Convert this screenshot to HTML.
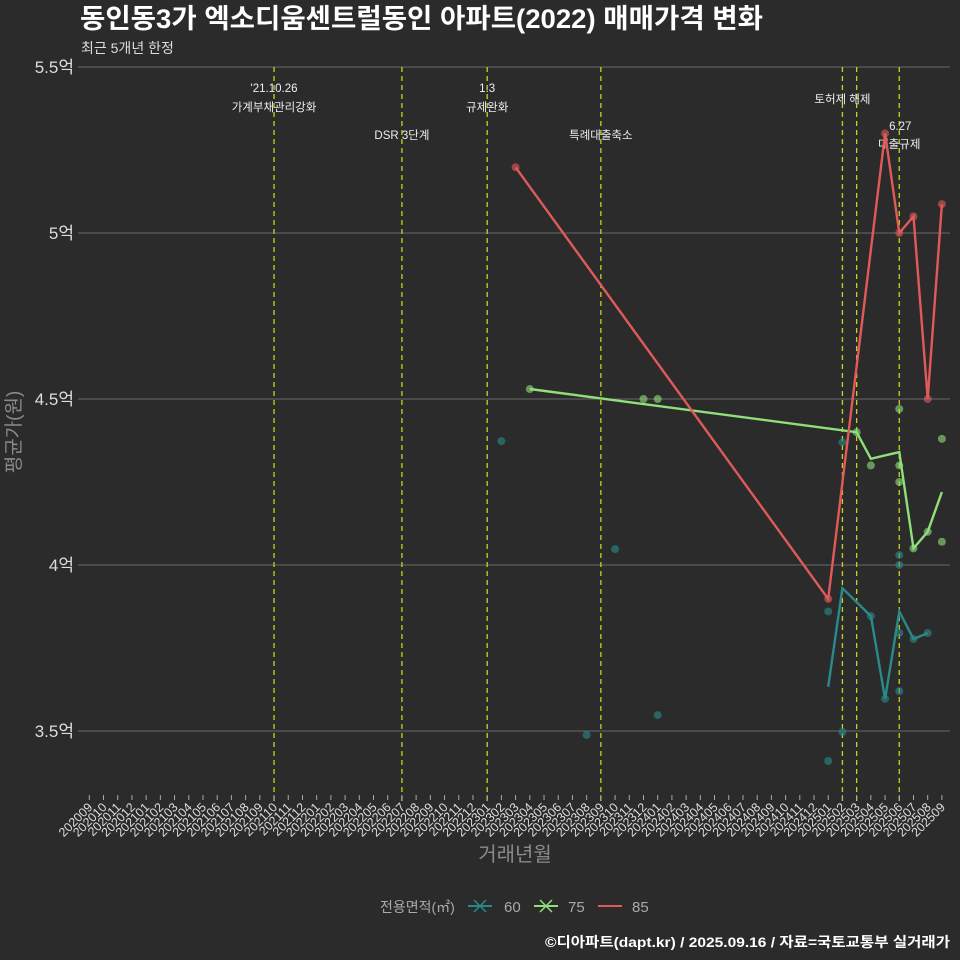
<!DOCTYPE html>
<html><head><meta charset="utf-8">
<style>
html,body{margin:0;padding:0;background:#2b2b2b;}
svg{display:block;font-family:"Liberation Sans","Noto Sans CJK KR",sans-serif;}
</style></head>
<body>
<svg id="chart" width="960" height="960" viewBox="0 0 960 960" xmlns="http://www.w3.org/2000/svg">
<rect width="960" height="960" fill="#2b2b2b"/>
<text x="80" y="28" fill="#ffffff" font-size="27" font-weight="bold" textLength="683" lengthAdjust="spacingAndGlyphs">동인동3가 엑소디움센트럴동인 아파트(2022) 매매가격 변화</text>
<text x="81" y="53" fill="#dddddd" font-size="14">최근 5개년 한정</text>
<g id="grid"></g>
<g id="vlines"></g>
<g id="xaxis"></g>
<g id="series"></g>
<text x="20" y="432" fill="#8a8a8a" font-size="19" transform="rotate(-90 20 432)" text-anchor="middle">평균가(원)</text>
<text x="515" y="861" fill="#8a8a8a" font-size="20" text-anchor="middle">거래년월</text>
<g>
<text x="380" y="912" fill="#aaaaaa" font-size="14">전용면적(㎡)</text>
<g><line x1="468" y1="906" x2="492" y2="906" stroke="#2a8a8a" stroke-width="2"/><path d="M474 900 L486 912 M486 900 L474 912" stroke="#2a8a8a" stroke-width="1.5"/><text x="504" y="912" fill="#aaaaaa" font-size="15">60</text></g>
<g><line x1="534" y1="906" x2="558" y2="906" stroke="#8fe07a" stroke-width="2"/><path d="M540 900 L552 912 M552 900 L540 912" stroke="#8fe07a" stroke-width="1.5"/><text x="568" y="912" fill="#aaaaaa" font-size="15">75</text></g>
<g><line x1="598" y1="906" x2="622" y2="906" stroke="#e05a5a" stroke-width="2"/><text x="632" y="912" fill="#aaaaaa" font-size="15">85</text></g>
</g>
<text x="950" y="947" fill="#ffffff" font-size="14" font-weight="bold" text-anchor="end" textLength="405" lengthAdjust="spacingAndGlyphs">©디아파트(dapt.kr) / 2025.09.16 / 자료=국토교통부 실거래가</text>
</svg>
<script>
const months = (function(){const a=[];let y=2020,m=9;while(y<2025||(y===2025&&m<=9)){a.push(y+String(m).padStart(2,'0'));m++;if(m>12){m=1;y++;}}return a;})();
const yTicks = [3.5,4,4.5,5,5.5];
const yTickLabels = ['3.5억','4억','4.5억','5억','5.5억'];
const eventMonths = ['202110','202207','202301','202309','202502','202503','202506'];
const line60Months = ['202501','202502','202504','202505','202506','202507','202508'];
const line60Values = [3.633,3.93,3.846,3.597,3.86,3.777,3.795];
const line75Months = ['202304','202503','202504','202506','202507','202508','202509'];
const line75Values = [4.53,4.40,4.32,4.34,4.05,4.10,4.22];
const line85Months = ['202303','202501','202505','202506','202507','202508','202509'];
const line85Values = [5.198,3.898,5.30,5.0,5.05,4.5,5.087];
const pts60Months = ['202302','202308','202310','202401','202501','202501','202502','202502','202504','202505','202506','202506','202506','202506','202507','202508'];
const pts60Values = [4.373,3.488,4.048,3.548,3.86,3.41,4.37,3.497,3.846,3.597,4.03,4.0,3.795,3.62,3.777,3.795];
const pts75Months = ['202304','202312','202401','202503','202504','202506','202506','202506','202507','202508','202509','202509'];
const pts75Values = [4.53,4.5,4.5,4.40,4.30,4.47,4.30,4.25,4.05,4.10,4.38,4.07];
const pts85Months = ['202303','202501','202505','202506','202507','202508','202509'];
const pts85Values = [5.198,3.898,5.30,5.0,5.05,4.5,5.087];

const NS='http://www.w3.org/2000/svg';
function xOf(mon){return 89.3+months.indexOf(mon)*14.21;}
function yOf(v){return 233+(5-v)*332;}
function mk(tag,attrs,parent){const e=document.createElementNS(NS,tag);for(const k in attrs)e.setAttribute(k,attrs[k]);parent.appendChild(e);return e;}

const grid=document.getElementById('grid');
yTicks.forEach((v,i)=>{
  const l=mk('line',{x1:78,x2:950,y1:yOf(v),y2:yOf(v),stroke:'#6a6a6a','stroke-width':1},grid);
  
  
  const t=mk('text',{x:74,y:yOf(v)+6,fill:'#dddddd','font-size':17,'text-anchor':'end'},grid);
  t.textContent=yTickLabels[i];
  
  
});

const vl=document.getElementById('vlines');
eventMonths.forEach(m=>{
  const l=mk('line',{x1:xOf(m),x2:xOf(m),y1:67,y2:805,stroke:'#c8d21e','stroke-width':1.3,'stroke-dasharray':'5,4'},vl);
  
  
});
const anns=[['202110',92,"'21.10.26"],['202110',111,'가계부채관리강화'],['202207',139,'DSR 3단계'],['202301',92,'1.3'],['202301',111,'규제완화'],['202309',139,'특례대출축소'],['202502',103,'토허제 해제'],['202506',130,'6.27'],['202506',148,'대출규제']];
anns.forEach(a=>{
  const t=mk('text',{x:xOf(a[0])+(a[2]==='6.27'?1:0),y:a[1],fill:'#eeeeee','font-size':11.5,'text-anchor':'middle'},vl);
  t.textContent=a[2];
  
  
});

const xa=document.getElementById('xaxis');
months.forEach(m=>{
  const x=xOf(m);
  mk('line',{x1:x,x2:x,y1:795,y2:800,stroke:'#aaaaaa','stroke-width':1},xa);
  const t=mk('text',{x:x+4,y:808,fill:'#dddddd','font-size':12.5,'text-anchor':'end',transform:'rotate(-45 '+(x+4)+' 808)'},xa);
  t.textContent=m;
  
  
});

const sg=document.getElementById('series');
function pts(ms,vs,color,name){
  ms.forEach((m,i)=>{
    const c=mk('circle',{cx:xOf(m),cy:yOf(vs[i]),r:4,fill:color,'fill-opacity':0.6},sg);
    
    
  });
}
function line(ms,vs,color,name){
  const d=ms.map((m,i)=>(i?'L':'M')+xOf(m).toFixed(1)+' '+yOf(vs[i]).toFixed(1)).join(' ');
  const p=mk('path',{d:d,fill:'none',stroke:color,'stroke-width':2.4},sg);
  
  
}
pts(pts60Months,pts60Values,'#2a8a8a','area-60');
pts(pts75Months,pts75Values,'#8fe07a','area-75');
pts(pts85Months,pts85Values,'#e05a5a','area-85');
line(line60Months,line60Values,'#2a8a8a','area-60');
line(line75Months,line75Values,'#8fe07a','area-75');
line(line85Months,line85Values,'#e05a5a','area-85');
</script>
</body></html>
